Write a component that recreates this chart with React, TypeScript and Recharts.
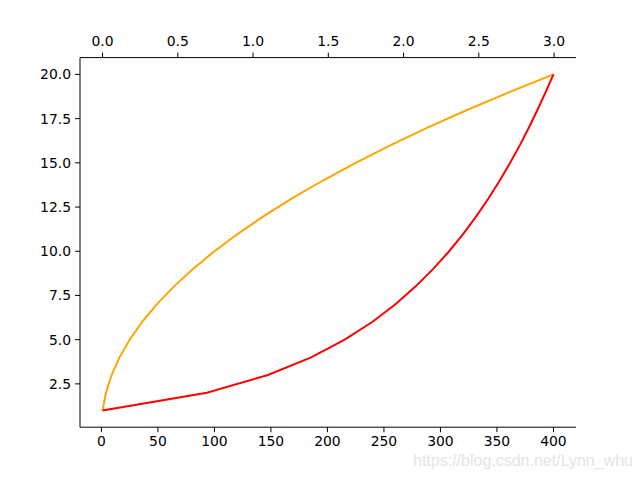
import React from 'react';
import { LineChart, Line, XAxis, YAxis } from 'recharts';

// levels 1..20 (y values)
const levels = [1, 2, 3, 4, 5, 6, 7, 8, 9, 10, 11, 12, 13, 14, 15, 16, 17, 18, 19, 20];
// orange series, bottom axis
const orangeX = [1, 4, 9, 16, 25, 36, 49, 64, 81, 100, 121, 144, 169, 196, 225, 256, 289, 324, 361, 400];
// red series, top axis
const redX = [0, 0.693, 1.099, 1.386, 1.609, 1.792, 1.946, 2.079, 2.197, 2.303, 2.398, 2.485, 2.565, 2.639, 2.708, 2.773, 2.833, 2.89, 2.944, 2.996];

const bottomTicks = [0, 50, 100, 150, 200, 250, 300, 350, 400];
const topTicks = [0, 0.5, 1.0, 1.5, 2.0, 2.5, 3.0];
const yTicks = [2.5, 5, 7.5, 10, 12.5, 15, 17.5, 20];

const orangeData = orangeX.map((x, i) => ({ x, y: levels[i] }));
const redData = redX.map((x, i) => ({ x, y: levels[i] }));

const tickStyle = { fill: '#000', fontSize: 13.9, fontFamily: 'DejaVu Sans' };

export default function App() {
    return (
        <div style={{ position: 'relative', width: 640, height: 480, background: '#fff' }}>
            <style>{`body{margin:0}`}</style>
            <LineChart width={640} height={480} margin={{ top: 27.6, right: 64, left: 30, bottom: 22.8 }}>
                <XAxis
                    xAxisId="bottom"
                    dataKey="x"
                    type="number"
                    domain={[-18.95, 419.95]}
                    ticks={bottomTicks}
                    interval={0}
                    height={30}
                    tick={tickStyle}
                    tickSize={5}
                    tickMargin={4}
                    stroke="#000"
                    allowDataOverflow
                />
                <XAxis
                    xAxisId="top"
                    orientation="top"
                    dataKey="x"
                    type="number"
                    domain={[-0.1498, 3.1457]}
                    ticks={topTicks}
                    interval={0}
                    height={30}
                    tick={tickStyle}
                    tickSize={5}
                    tickMargin={7}
                    tickFormatter={(v: number) => v.toFixed(1)}
                    stroke="#000"
                    allowDataOverflow
                />
                <YAxis
                    yAxisId="left"
                    type="number"
                    domain={[0.05, 20.95]}
                    ticks={yTicks}
                    interval={0}
                    width={50}
                    tick={tickStyle}
                    tickSize={5}
                    tickMargin={4}
                    tickFormatter={(v: number) => v.toFixed(1)}
                    stroke="#000"
                    allowDataOverflow
                />
                <YAxis
                    yAxisId="right"
                    orientation="right"
                    type="number"
                    domain={[0.05, 20.95]}
                    width={0}
                    tick={false}
                    tickLine={false}
                    stroke="#000"
                />
                <Line
                    xAxisId="bottom"
                    yAxisId="left"
                    data={orangeData}
                    dataKey="y"
                    stroke="#ffa500"
                    strokeWidth={2}
                    dot={false}
                    type="linear"
                    isAnimationActive={false}
                />
                <Line
                    xAxisId="top"
                    yAxisId="left"
                    data={redData}
                    dataKey="y"
                    stroke="#ff0000"
                    strokeWidth={2}
                    dot={false}
                    type="linear"
                    isAnimationActive={false}
                />
            </LineChart>
            <div
                style={{
                    position: 'absolute',
                    left: 413,
                    top: 452,
                    fontFamily: 'Arial, "Liberation Sans", sans-serif',
                    fontSize: 16,
                    color: '#e4e4e4',
                }}
            >
                https://blog.csdn.net/Lynn_whu
            </div>
        </div>
    );
}
